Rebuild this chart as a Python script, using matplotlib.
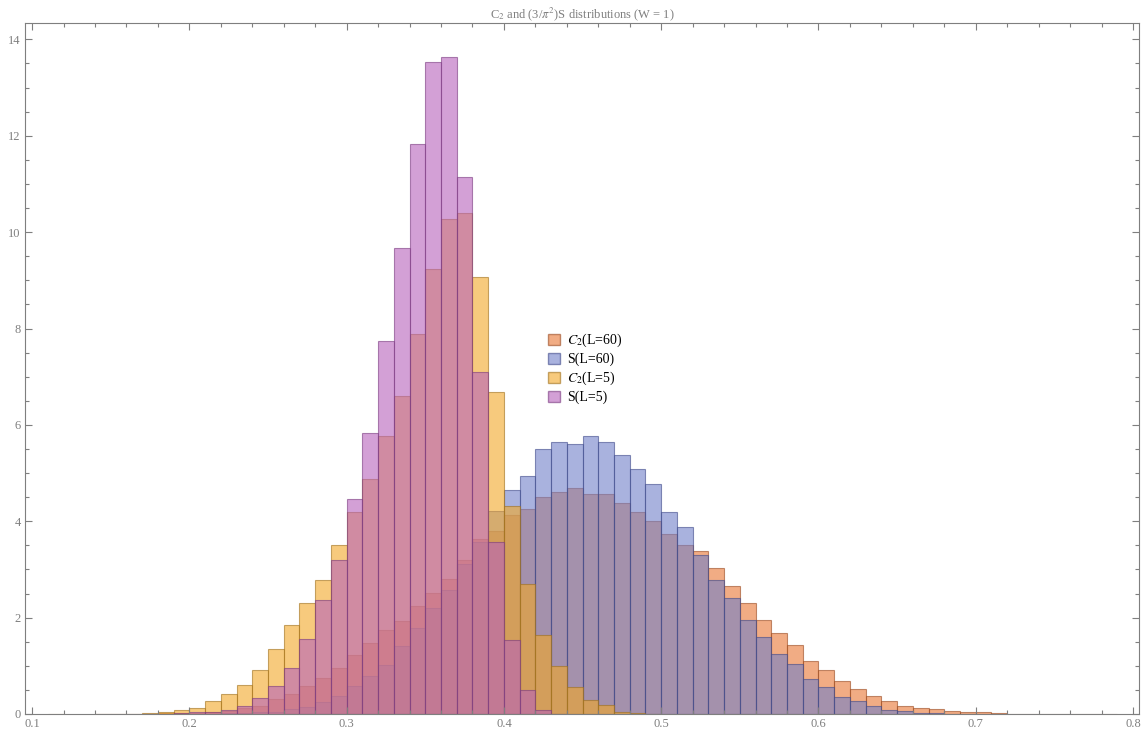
import matplotlib
matplotlib.use('Agg')
import matplotlib.pyplot as plt
from matplotlib.ticker import MultipleLocator
from matplotlib.patches import Patch
import numpy as np

# left edges of the histogram bins (width 0.01)
bin_left = np.round(np.arange(0.10, 0.80, 0.01), 2)
bin_width = 0.01

C2_L60 = [0, 0, 0, 0, 0.005, 0.005, 0.005, 0.01, 0.015, 0.02,
          0.03, 0.04, 0.06, 0.12, 0.17, 0.305, 0.42, 0.59, 0.74, 0.95,
          1.22, 1.47, 1.74, 1.94, 2.25, 2.52, 2.81, 3.205, 3.64, 3.79,
          4.14, 4.26, 4.50, 4.60, 4.685, 4.56, 4.56, 4.37, 4.19, 4.00,
          3.74, 3.50, 3.39, 3.02, 2.65, 2.31, 1.96, 1.675, 1.44, 1.09,
          0.92, 0.69, 0.51, 0.38, 0.28, 0.17, 0.13, 0.11, 0.07, 0.035,
          0.035, 0.02, 0.01, 0.01, 0.01, 0.005, 0.005, 0.005, 0.005, 0]

S_L60 = [0, 0, 0, 0, 0, 0, 0, 0, 0.003, 0.003,
         0.005, 0.01, 0.02, 0.03, 0.05, 0.05, 0.10, 0.14, 0.24, 0.38,
         0.59, 0.78, 1.02, 1.405, 1.785, 2.21, 2.58, 3.12, 3.56, 4.21,
         4.64, 4.93, 5.49, 5.64, 5.61, 5.76, 5.65, 5.385, 5.09, 4.78,
         4.19, 3.89, 3.29, 2.79, 2.40, 1.96, 1.59, 1.25, 1.03, 0.735,
         0.55, 0.36, 0.26, 0.17, 0.09, 0.056, 0.03, 0.02, 0.01, 0.005,
         0, 0, 0, 0, 0, 0, 0, 0, 0, 0]

C2_L5 = [0, 0.01, 0, 0, 0.005, 0.005, 0.01, 0.015, 0.035, 0.077,
         0.13, 0.26, 0.42, 0.61, 0.92, 1.34, 1.84, 2.31, 2.79, 3.50,
         4.19, 4.87, 5.77, 6.59, 7.88, 9.23, 10.28, 10.39, 9.06, 6.69,
         4.31, 2.69, 1.63, 1.00, 0.56, 0.30, 0.18, 0.05, 0.02, 0.01,
         0, 0, 0, 0, 0, 0, 0, 0, 0, 0,
         0, 0, 0, 0, 0, 0, 0, 0, 0, 0,
         0, 0, 0, 0, 0, 0, 0, 0, 0, 0]

S_L5 = [0, 0, 0, 0, 0, 0, 0, 0.005, 0.01, 0.02,
        0.035, 0.05, 0.077, 0.16, 0.34, 0.575, 0.96, 1.565, 2.37, 3.205,
        4.47, 5.84, 7.74, 9.68, 11.82, 13.54, 13.63, 11.14, 7.09, 3.56,
        1.545, 0.49, 0.09, 0.01, 0, 0, 0, 0, 0, 0,
        0, 0, 0, 0, 0, 0, 0, 0, 0, 0,
        0, 0, 0, 0, 0, 0, 0, 0, 0, 0,
        0, 0, 0, 0, 0, 0, 0, 0, 0, 0]

series = [C2_L60, S_L60, C2_L5, S_L5]
labels = ['$C_2$(L=60)', 'S(L=60)', '$C_2$(L=5)', 'S(L=5)']
face = ['#E97532', '#717FC8', '#F3A826', '#B761BB']
edge = ['#9A4A20', '#3E4A8A', '#A0701A', '#7A3A80']
alpha = 0.6
gray = '#7f7f7f'

plt.rcParams['font.family'] = ['Liberation Serif', 'DejaVu Serif']
plt.rcParams['mathtext.fontset'] = 'stix'


def figure_hist():
    fig = plt.figure(figsize=(11.45, 7.35), dpi=100)
    ax = fig.add_axes([25/1145, 21/735, 1114/1145, 691/735])

    for vals, fc, ec in zip(series, face, edge):
        v = np.array(vals)
        m = v > 0
        ax.bar(bin_left[m], v[m], width=bin_width, align='edge',
               color=fc, alpha=alpha, edgecolor=ec, linewidth=0.8)

    ax.set_xlim(0.0955, 0.8038)
    ax.set_ylim(0, 14.34)

    ax.xaxis.set_major_locator(MultipleLocator(0.1))
    ax.xaxis.set_minor_locator(MultipleLocator(0.02))
    ax.yaxis.set_major_locator(MultipleLocator(2))
    ax.yaxis.set_minor_locator(MultipleLocator(0.5))
    ax.xaxis.set_major_formatter(plt.FuncFormatter(lambda x, p: '%g' % round(x, 2)))
    ax.tick_params(which='both', direction='in', top=True, right=True,
                   color=gray, labelcolor=gray, labelsize=9, width=0.8)
    ax.tick_params(which='major', length=5, pad=3)
    ax.tick_params(which='minor', length=3)
    for s in ax.spines.values():
        s.set_color(gray)
        s.set_linewidth(0.8)

    ax.set_title(r'C$_2$ and (3/$\pi^2$)S distributions (W = 1)',
                 fontsize=9, color=gray, pad=2)

    handles = [Patch(facecolor=fc, edgecolor=ec, alpha=alpha)
               for fc, ec in zip(face, edge)]
    ax.legend(handles, labels, loc='upper left', bbox_to_anchor=(0.4644, 0.561),
              frameon=False, fontsize=10, handlelength=0.9, handleheight=0.9,
              handletextpad=0.5, labelspacing=0.25, borderaxespad=0)

    plt.savefig('out.png', dpi=100)


figure_hist()
